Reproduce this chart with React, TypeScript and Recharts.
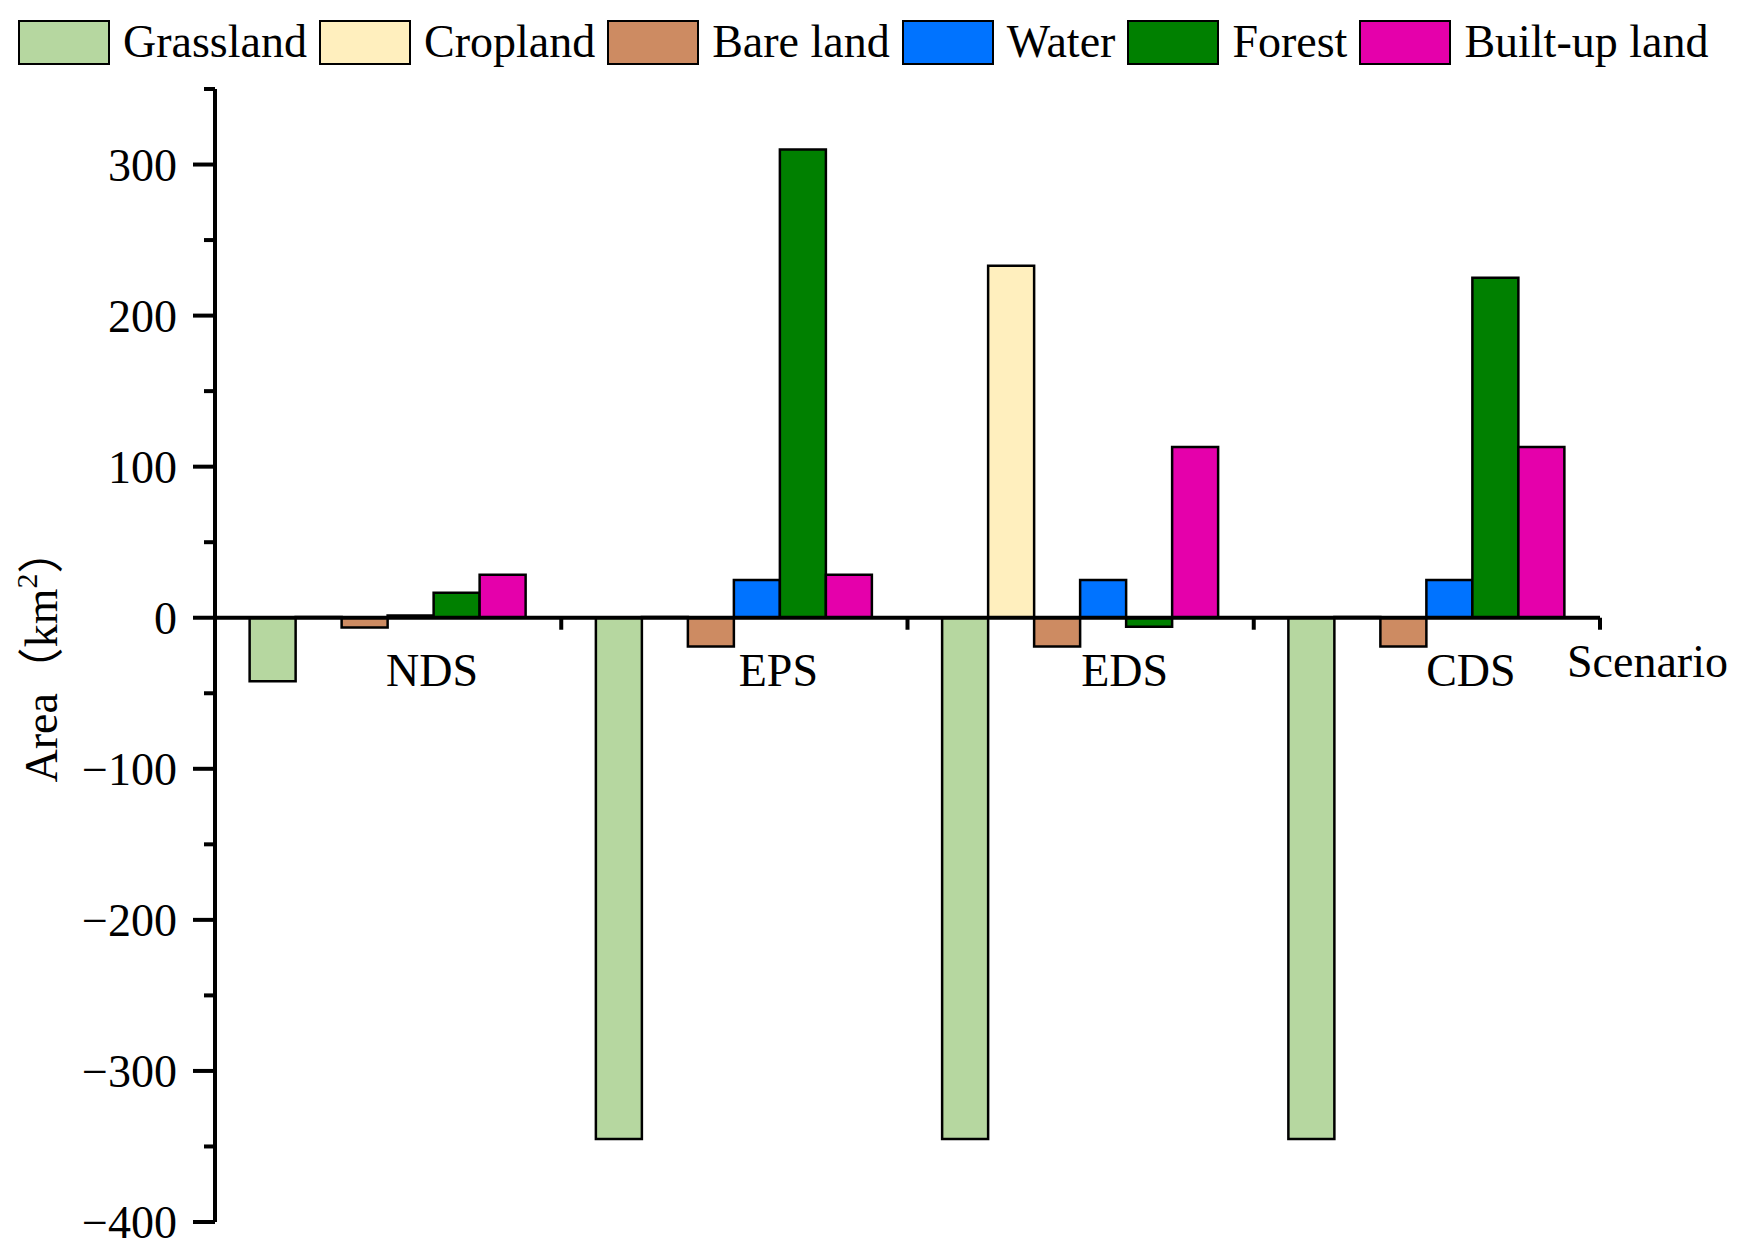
import React from "react";
import { Bar, BarChart, Legend, ReferenceDot, ReferenceLine, XAxis, YAxis } from "recharts";

// scenarios on the x axis
const scenarios = ["NDS", "EPS", "EDS", "CDS"];

// area change per land type, km2
const grassland = [-42, -345, -345, -345];
const cropland = [0.5, 0.5, 233, 0.5];
const bareLand = [-6.5, -19, -19, -19];
const water = [1.5, 25, 25, 25];
const forest = [16.5, 310, -6, 225];
const builtUp = [28.5, 28.5, 113, 113];

const yTicks = [-400, -350, -300, -250, -200, -150, -100, -50, 0, 50, 100, 150, 200, 250, 300, 350];

const series = [
    {key: "grassland", name: "Grassland", color: "#b6d7a0"},
    {key: "cropland", name: "Cropland", color: "#ffefbe"},
    {key: "bareLand", name: "Bare land", color: "#cd8b62"},
    {key: "water", name: "Water", color: "#0073ff"},
    {key: "forest", name: "Forest", color: "#008000"},
    {key: "builtUp", name: "Built-up land", color: "#e500ab"},
];

const data = scenarios.map((s, i) => ({
    scenario: s,
    grassland: grassland[i],
    cropland: cropland[i],
    bareLand: bareLand[i],
    water: water[i],
    forest: forest[i],
    builtUp: builtUp[i],
}));

const W = 1744;
const H = 1251;
const margin = {top: 89, right: 144, bottom: 29, left: 0};
const Y_AXIS_W = 215;
const BAND = (W - margin.left - margin.right - Y_AXIS_W) / scenarios.length;
const FONT = "'Liberation Serif', 'Times New Roman', 'Noto Sans CJK SC', serif";

const renderLegend = () => (
    <div style={{display: "flex", alignItems: "center", paddingLeft: 18, paddingTop: 17, fontFamily: FONT}}>
        {series.map((s) => (
            <div key={s.key} style={{display: "flex", alignItems: "center"}}>
                <span style={{
                    width: 92, height: 45, boxSizing: "border-box", border: "2.5px solid #000",
                    background: s.color, display: "inline-block"
                }}/>
                <span style={{fontSize: 46, marginLeft: 13, marginRight: 12, lineHeight: "50px", color: "#000"}}>{s.name}</span>
            </div>
        ))}
    </div>
);

const YTick = (props: any) => {
    const {x, y, payload} = props;
    const v = payload.value;
    const major = v % 100 === 0;
    return (
        <g>
            <line x1={x - (major ? 22 : 11)} x2={x} y1={y} y2={y} stroke="#000" strokeWidth={4}/>
            {major && (
                <text x={x - 38} y={y} dy={16} textAnchor="end" fontSize={46} fontFamily={FONT} fill="#000">
                    {v < 0 ? `\u2212${-v}` : v}
                </text>
            )}
        </g>
    );
};

// category label, boundary tick and (for the last one) axis name, at each scenario on y = 0
const CategoryMark = (props: any) => {
    const {cx, cy, index} = props;
    return (
        <g>
            <line x1={cx + BAND / 2} x2={cx + BAND / 2} y1={cy} y2={cy + 12} stroke="#000" strokeWidth={4}/>
            <text x={cx + 44} y={cy + 68} textAnchor="middle" fontSize={46} fontFamily={FONT} fill="#000">
                {scenarios[index]}
            </text>
            {index === scenarios.length - 1 && (
                <text x={cx + BAND / 2 - 33} y={cy + 59} textAnchor="start" fontSize={46} fontFamily={FONT} fill="#000">
                    Scenario
                </text>
            )}
        </g>
    );
};

export default function App() {
    return (
        <div style={{position: "absolute", left: 0, top: 0, width: W, height: H, background: "#fff"}}>
            <BarChart width={W} height={H} data={data} margin={margin} barCategoryGap="10%" barGap={0}>
                <XAxis dataKey="scenario" hide/>
                <YAxis
                    width={Y_AXIS_W}
                    domain={[-400, 350]}
                    ticks={yTicks}
                    interval={0}
                    tickLine={false}
                    tickSize={0}
                    tickMargin={0}
                    axisLine={{stroke: "#000", strokeWidth: 4}}
                    tick={<YTick/>}
                />
                <Legend
                    layout="horizontal"
                    verticalAlign="middle"
                    align="center"
                    wrapperStyle={{top: 0, left: 0, width: W, height: 80}}
                    content={renderLegend}
                />
                {series.map((s) => (
                    <Bar key={s.key} dataKey={s.key} name={s.name} fill={s.color} stroke="#000" strokeWidth={2.5}
                         isAnimationActive={false}/>
                ))}
                <ReferenceLine y={0} stroke="#000" strokeWidth={4}/>
                {scenarios.map((s, i) => (
                    <ReferenceDot key={s} x={s} y={0} r={0}
                                  shape={(p: any) => <CategoryMark {...p} index={i}/>}/>
                ))}
                <text transform="translate(57, 655) rotate(-90)" textAnchor="middle" fontSize={46} fontFamily={FONT} fill="#000">
                    Area（km<tspan fontSize={30} dy={-20}>2</tspan><tspan dy={20}>）</tspan>
                </text>
            </BarChart>
        </div>
    );
}
